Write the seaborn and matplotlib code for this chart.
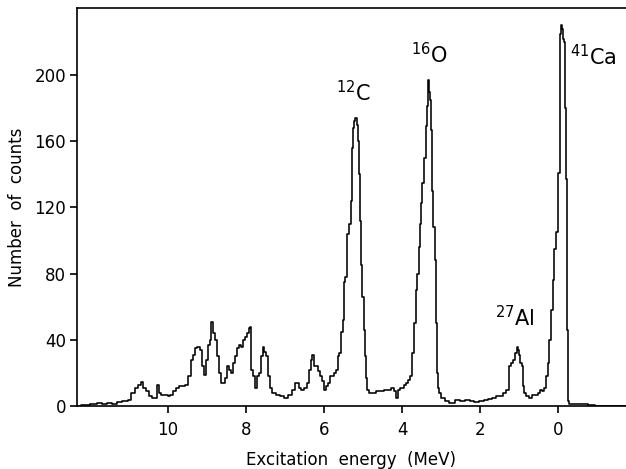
import numpy as np
import pandas as pd
import matplotlib
matplotlib.use("Agg")
import matplotlib.pyplot as plt
import seaborn as sns

# Excitation energy (MeV) and number of counts
energy = [12.33, 12.13, 11.87, 11.74, 11.62, 11.49, 11.36, 11.23, 11.10, 10.97,
          10.90, 10.79, 10.72, 10.67, 10.59, 10.51, 10.44, 10.36, 10.31, 10.26,
          10.21, 10.13, 10.05, 9.97, 9.90, 9.82, 9.74, 9.67, 9.59, 9.51,
          9.44, 9.38, 9.33, 9.28, 9.21, 9.15, 9.10, 9.05, 9.00, 8.95,
          8.90, 8.87, 8.82, 8.77, 8.72, 8.67, 8.62, 8.56, 8.51, 8.46,
          8.41, 8.36, 8.31, 8.26, 8.21, 8.15, 8.10, 8.05, 8.00, 7.95,
          7.90, 7.87, 7.85, 7.79, 7.74, 7.69, 7.64, 7.59, 7.56, 7.51,
          7.46, 7.41, 7.36, 7.28, 7.18, 7.08, 6.97, 6.87, 6.79, 6.72,
          6.67, 6.62, 6.54, 6.46, 6.41, 6.36, 6.31, 6.28, 6.23, 6.18,
          6.13, 6.08, 6.03, 5.97, 5.92, 5.87, 5.82, 5.77, 5.72, 5.67,
          5.62, 5.59, 5.54, 5.51, 5.46, 5.44, 5.38, 5.33, 5.28, 5.26,
          5.23, 5.21, 5.18, 5.15, 5.13, 5.10, 5.08, 5.05, 5.03, 5.00,
          4.97, 4.95, 4.92, 4.87, 4.82, 4.72, 4.62, 4.51, 4.41, 4.31,
          4.23, 4.18, 4.13, 4.08, 4.00, 3.92, 3.87, 3.82, 3.77, 3.72,
          3.67, 3.62, 3.59, 3.56, 3.54, 3.51, 3.46, 3.41, 3.38, 3.36,
          3.33, 3.31, 3.28, 3.26, 3.23, 3.21, 3.18, 3.15, 3.13, 3.10,
          3.08, 3.03, 2.95, 2.85, 2.72, 2.59, 2.46, 2.33, 2.21, 2.08,
          1.95, 1.85, 1.74, 1.64, 1.54, 1.44, 1.36, 1.31, 1.23, 1.18,
          1.13, 1.08, 1.05, 1.03, 1.00, 0.95, 0.92, 0.90, 0.85, 0.79,
          0.72, 0.64, 0.56, 0.49, 0.44, 0.38, 0.33, 0.28, 0.26, 0.21,
          0.15, 0.13, 0.08, 0.03, -0.03, -0.05, -0.08, -0.10, -0.13, -0.15,
          -0.18, -0.21, -0.23, -0.26, -0.31, -0.44, -0.56, -0.69, -0.82, -1.08,
          -1.33, -1.74]
counts = [0, 0.5, 1, 2, 1, 2, 1.5, 2.5, 3, 3.5,
          8, 11, 13, 14.5, 11, 9, 6, 5, 5, 13,
          8, 7, 7, 6, 7, 9, 11, 12, 12, 13,
          18, 28, 31, 35, 36, 34, 24, 19, 28, 37,
          40, 51, 44, 40, 30, 20, 14, 14, 17, 24,
          22, 20, 26, 30, 35, 37, 36, 40, 42, 44,
          47, 48, 22, 18, 11, 18, 20, 30, 36, 33,
          30, 18, 11, 8, 7, 6, 5, 7, 10, 14,
          14, 11, 10, 11, 14, 22, 28, 31, 24, 24,
          21, 18, 15, 10, 12, 14, 18, 18, 20, 22,
          30, 32, 45, 52, 75, 78, 104, 110, 124, 156,
          168, 172, 174, 170, 160, 155, 140, 112, 85, 66,
          46, 30, 17, 10, 8, 8, 9, 9, 10, 10,
          11, 9, 5, 10, 11, 13, 14, 16, 18, 32,
          50, 70, 80, 96, 110, 123, 135, 150, 169, 181,
          197, 190, 185, 178, 167, 130, 108, 88, 50, 20,
          11, 8, 5, 3, 2, 3.5, 3, 3.5, 3, 2.5,
          3, 4, 4.5, 5, 6, 6, 8, 10, 24, 26,
          28, 32, 36, 34, 31, 26, 24, 12, 8, 6,
          5, 7, 7, 8, 10, 9, 11, 18, 26, 40,
          58, 76, 95, 105, 141, 225, 230, 228, 222, 220,
          180, 137, 46, 3, 1, 1.5, 1.5, 1, 0.5, 0.3,
          0.2, 0]

x_ticks = [10, 8, 6, 4, 2, 0]
y_ticks = [0, 40, 80, 120, 160, 200]
peak_labels = [r"$^{12}$C", r"$^{16}$O", r"$^{41}$Ca", r"$^{27}$Al"]
label_pos = [(5.69, 184), (3.77, 207), (-0.31, 206), (1.62, 48)]

df = pd.DataFrame({"energy": energy, "counts": counts})

sns.set_style("ticks")
plt.rcParams["font.family"] = ["DejaVu Sans"]

fig = plt.figure(figsize=(6.26, 4.69), dpi=100)
ax = fig.add_axes([0.123, 0.134, 0.877, 0.849])

sns.lineplot(data=df, x="energy", y="counts", estimator=None, sort=True,
             drawstyle="steps-mid", color="black", linewidth=1.15, ax=ax)

ax.set_xlim(12.33, -1.74)
ax.set_ylim(0, 240.5)
ax.set_xticks(x_ticks)
ax.set_xticklabels([str(t) for t in x_ticks])
ax.set_yticks(y_ticks)
ax.set_yticklabels([str(t) for t in y_ticks])
ax.tick_params(axis="both", direction="out", length=5, width=1.2,
               labelsize=12, colors="black", labelcolor="black", pad=3)
ax.tick_params(axis="x", pad=6)

for side in ["left", "top", "bottom"]:
    ax.spines[side].set_visible(True)
    ax.spines[side].set_linewidth(1.2)
    ax.spines[side].set_color("black")
ax.spines["right"].set_visible(False)

ax.set_xlabel("Excitation  energy  (MeV)", fontsize=12, labelpad=8, color="black")
ax.set_ylabel("Number  of  counts", fontsize=12, labelpad=6, color="black")

for lab, (lx, ly) in zip(peak_labels, label_pos):
    ax.text(lx, ly, lab, fontsize=15, ha="left", va="baseline", color="black")

fig.savefig("out.png", dpi=100)
